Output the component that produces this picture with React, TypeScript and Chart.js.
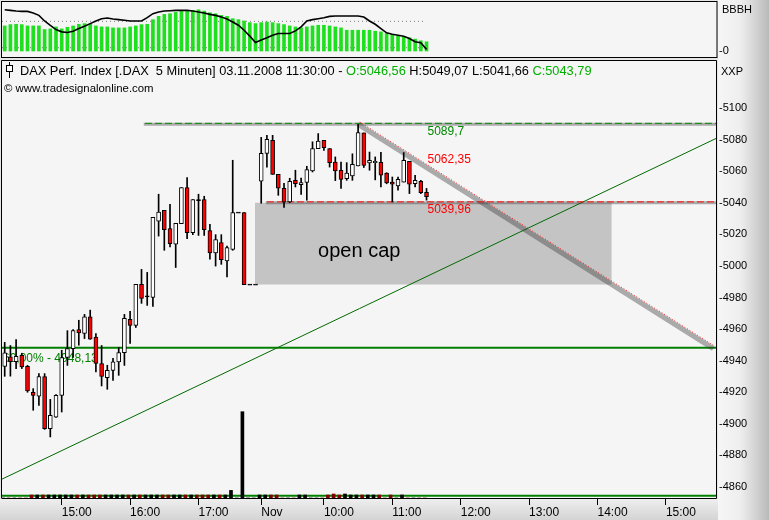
import React, { useEffect, useRef } from 'react';
import { Chart, registerables } from 'chart.js';

Chart.register(...registerables);

const FONT = '"Liberation Sans", Arial, sans-serif';

// ---- candle data (5 minute bars, index 0..74) ----
const opens = [
  4936.4, 4942.5, 4939.4, 4943.4, 4936.4, 4920.0, 4917.6, 4930.0, 4897.0, 4904.3,
  4918.0, 4942.0, 4947.6, 4959.7, 4957.3, 4967.8, 4955.0, 4938.2, 4929.3, 4933.9,
  4939.2, 4945.1, 4966.2, 4962.4, 4988.3, 4980.6, 4980.0, 5028.4, 5035.2, 5023.6,
  5013.7, 5026.8, 5049.6, 5021.1, 5041.8, 5042.0, 5022.4, 5008.2, 5014.8, 5003.1,
  5010.5, 5033.8, 5033.8, 4988.2, 4988.2, 5053.6, 5071.3, 5079.5, 5058.0, 5049.2,
  5040.5, 5054.2, 5051.5, 5052.8, 5060.1, 5074.3, 5079.5, 5074.3, 5065.8, 5060.6,
  5055.3, 5057.0, 5063.3, 5084.2, 5065.2, 5065.4, 5065.6, 5058.8, 5053.1, 5050.6,
  5053.1, 5066.2, 5052.1, 5053.6, 5046.56,
];
const highs = [
  4951.6, 4949.6, 4953.3, 4944.7, 4937.0, 4922.3, 4931.8, 4931.8, 4915.5, 4918.5,
  4946.6, 4959.0, 4959.7, 4965.6, 4969.3, 4972.0, 4957.1, 4949.6, 4937.1, 4941.5,
  4948.3, 4969.3, 4971.2, 4988.3, 4997.8, 4995.9, 5030.7, 5045.4, 5035.2, 5039.0,
  5027.0, 5049.6, 5055.9, 5042.0, 5045.4, 5044.1, 5026.4, 5019.8, 5019.8, 5012.6,
  5066.9, 5033.8, 5033.8, 4988.2, 4988.2, 5081.4, 5082.7, 5082.7, 5058.0, 5052.3,
  5055.5, 5060.6, 5055.7, 5063.1, 5078.6, 5083.8, 5079.5, 5074.3, 5069.0, 5065.8,
  5065.4, 5071.0, 5089.7, 5084.2, 5072.1, 5069.0, 5072.0, 5059.0, 5056.3, 5056.3,
  5071.8, 5066.2, 5057.4, 5054.2, 5049.07,
];
const lows = [
  4930.1, 4930.2, 4935.0, 4935.0, 4920.0, 4908.6, 4911.7, 4896.5, 4891.7, 4904.0,
  4907.5, 4937.0, 4942.0, 4949.8, 4954.0, 4953.5, 4932.8, 4924.0, 4921.9, 4927.5,
  4930.7, 4937.0, 4951.0, 4961.0, 4976.3, 4975.0, 4974.4, 5018.9, 5009.9, 5012.0,
  4999.0, 5026.8, 5017.3, 5019.8, 5019.3, 5019.3, 5004.2, 4999.9, 5001.0, 4993.0,
  5009.9, 5033.8, 4988.2, 4988.2, 4988.2, 5039.7, 5062.5, 5058.0, 5044.7, 5037.1,
  5040.0, 5050.0, 5045.2, 5041.6, 5059.5, 5074.3, 5073.2, 5062.6, 5054.0, 5049.0,
  5054.2, 5054.2, 5063.3, 5062.3, 5060.6, 5054.5, 5050.0, 5052.0, 5040.5, 5047.9,
  5053.1, 5045.8, 5050.0, 5045.8, 5041.66,
];
const closes = [
  4945.0, 4939.3, 4942.8, 4936.0, 4920.8, 4918.0, 4930.0, 4897.0, 4905.4, 4918.0,
  4942.0, 4947.6, 4959.0, 4957.5, 4967.8, 4953.6, 4938.2, 4930.0, 4933.9, 4939.2,
  4945.1, 4966.8, 4962.4, 4988.3, 4979.4, 4980.9, 5030.7, 5034.1, 5023.0, 5014.1,
  5027.0, 5049.6, 5021.1, 5042.0, 5041.6, 5023.0, 5008.2, 5016.7, 5004.0, 5011.6,
  5033.8, 5033.8, 4988.2, 4988.2, 4988.2, 5071.3, 5080.2, 5058.0, 5049.2, 5040.3,
  5053.6, 5052.1, 5052.8, 5061.0, 5074.3, 5079.1, 5074.9, 5065.4, 5060.1, 5054.8,
  5058.8, 5064.3, 5084.4, 5063.6, 5066.9, 5066.2, 5057.4, 5052.5, 5051.7, 5054.9,
  5066.9, 5051.7, 5054.2, 5046.4, 5043.79,
];
const volumes = [
  0, 0, 0, 0, 0, 30, 30, 30, 30, 30,
  30, 30, 30, 30, 30, 30, 30, 30, 30, 30,
  30, 30, 30, 30, 30, 30, 30, 30, 30, 30,
  30, 30, 30, 30, 30, 30, 30, 30, 30, 30,
  76, 0, 863, 0, 0, 30, 30, 30, 30, 0,
  0, 0, 30, 30, 0, 0, 0, 30, 40, 30,
  40, 30, 30, 30, 30, 30, 30, 0, 30, 0,
  30, 0, 0, 0, 0,
];
const auctionIndex = 42;

// ---- oscillator panel ----
const oscBars = [
  76, 80, 81, 80, 76, 76, 76, 65, 67, 73,
  67, 72, 76, 81, 83, 81, 76, 73, 73, 70,
  70, 70, 73, 76, 80, 81, 95, 105, 111, 113,
  117, 120, 123, 123, 125, 121, 116, 113, 108, 105,
  98, 95, 91, 86, 83, 86, 88, 86, 83, 80,
  76, 73, 70, 73, 76, 78, 78, 76, 73, 70,
  63, 63, 63, 63, 63, 60, 58, 53, 50, 46,
  43, 40, 36, 31, 28,
];
const oscLine = [
  125, 123, 121, 120, 120, 115, 108, 91, 78, 65,
  58, 56, 60, 68, 75, 83, 91, 98, 100, 97,
  95, 93, 91, 91, 91, 101, 113, 118, 121, 122,
  123, 123, 123, 121, 118, 115, 111, 108, 103, 97,
  88, 78, 63, 45, 26, 33, 40, 48, 53, 53,
  53, 61, 73, 91, 95, 98, 101, 105, 106, 106,
  106, 106, 106, 103, 91, 81, 68, 55, 51, 48,
  45, 38, 28, 25, 5,
];
const oscLevels = [10, 90];
const oscLevelEnd = 73.4;

// ---- axes ----
const xTickIndex = [10, 22, 34, 45, 56, 68, 80, 92, 104, 116];
const xTickLabels = ['15:00', '16:00', '17:00', 'Nov', '10:00', '11:00', '12:00', '13:00', '14:00', '15:00'];
const priceTicks = [4860, 4880, 4900, 4920, 4940, 4960, 4980, 5000, 5020, 5040, 5060, 5080, 5100];
const X_MIN = -0.474;
const X_MAX = 124.96;
const Y_MIN = 4853.04;
const Y_MAX = 5167.12;
const IND_MIN = -1354.5;
const IND_MAX = 148.5;
const VOL_MAX = 4960;

// ---- drawings ----
const resistanceLevel = 5089.7;
const resistanceFrom = 24.4;
const supportLevel = 5039.96;
const supportFrom = 45.8;
const fibLevel = 4948.13;
const fibPercent = '60,00%';
const fibBaseLevel = 4854.5;
const trendDown = [{ x: 62, y: 5089.7 }, { x: 124.3, y: 4947.7 }];
const trendDownValue = 5062.35;
const trendUp = [{ x: -0.47, y: 4865 }, { x: 124.96, y: 5081 }];
const gapFrom = 43.9;
const gapTo = 106.5;
const gapTop = 5039.96;
const gapBottom = 4988.2;
const gapText = 'open cap';
const gapTextAt = { x: 62.2, y: 5009 };

const de = (v: number, d?: number) => (d === undefined ? String(v) : v.toFixed(d)).replace('.', ',');

const noPad = (s: any) => {
  s.paddingTop = 0;
  s.paddingBottom = 0;
  s.paddingLeft = 0;
  s.paddingRight = 0;
};

export default function App() {
  const ref = useRef<HTMLCanvasElement | null>(null);

  useEffect(() => {
    const canvas = ref.current;
    if (!canvas) return;
    const n = opens.length;
    const last = n - 1;
    const idx = opens.map((_, i) => i);
    const MIN_BODY = 0.7;
    const bodies = idx.map((i) => {
      let lo = Math.min(opens[i], closes[i]);
      let hi = Math.max(opens[i], closes[i]);
      if (hi - lo < MIN_BODY) {
        const m = (lo + hi) / 2;
        lo = m - MIN_BODY / 2;
        hi = m + MIN_BODY / 2;
      }
      return { x: i, y: [lo, hi] };
    });
    const bodyColors = idx.map((i) => {
      if (Math.abs(closes[i] - opens[i]) < MIN_BODY) return '#000000';
      return closes[i] >= opens[i] ? '#ffffff' : '#ff0000';
    });
    const wicks = idx.map((i) => (highs[i] - lows[i] > 0.01 ? { x: i, y: [lows[i], highs[i]] } : null)).filter(Boolean);
    const volColors = idx.map((i) => (i === auctionIndex || closes[i] >= opens[i] ? '#000000' : '#800000'));
    const shade = 'rgba(52,52,52,0.39)';

    const line = (label: string, data: any[], color: string, width: number, order: number, extra: any = {}) => ({
      type: 'line',
      label,
      data,
      borderColor: color,
      borderWidth: width,
      pointRadius: 0,
      fill: false,
      tension: 0,
      yAxisID: 'y',
      order,
      ...extra,
    });

    const datasets: any[] = [
      line('gap', [{ x: gapFrom, y: gapTop }, { x: gapTo, y: gapTop }], 'rgba(0,0,0,0)', 0, 30, {
        fill: { value: gapBottom },
        backgroundColor: '#c4c4c4',
      }),
      ...oscLevels.map((lv, k) =>
        line('osc' + k, [{ x: X_MIN, y: lv }, { x: oscLevelEnd, y: lv }], '#7a7a7a', 1, 29, {
          yAxisID: 'yInd',
          borderDash: [1, 3],
        })
      ),
      {
        type: 'bar',
        label: 'oscBars',
        data: idx.map((i) => ({ x: i, y: oscBars[i] })),
        backgroundColor: '#1fe01f',
        barThickness: 3,
        grouped: false,
        yAxisID: 'yInd',
        order: 28,
      },
      line('oscLine', idx.map((i) => ({ x: i, y: oscLine[i] })), '#000000', 1.6, 27, { yAxisID: 'yInd' }),
      line('fib100', [{ x: X_MIN, y: fibBaseLevel }, { x: X_MAX, y: fibBaseLevel }], '#008000', 2, 26),
      {
        type: 'bar',
        label: 'volume',
        data: idx.map((i) => ({ x: i - 0.3, y: volumes[i] })),
        backgroundColor: volColors,
        barThickness: 3,
        grouped: false,
        yAxisID: 'yVol',
        order: 25,
      },
      line('fib60', [{ x: X_MIN, y: fibLevel }, { x: X_MAX, y: fibLevel }], '#007f00', 2, 24),
      line('trendUp', trendUp, '#006a00', 1, 23),
      line('resShade', [{ x: resistanceFrom, y: resistanceLevel }, { x: X_MAX, y: resistanceLevel }], shade, 3, 22),
      line('supShade', [{ x: supportFrom, y: supportLevel }, { x: X_MAX, y: supportLevel }], shade, 3, 22),
      line('downShade', trendDown, shade, 5, 21),
      line('res', [{ x: resistanceFrom + 0.2, y: resistanceLevel + 0.6 }, { x: X_MAX, y: resistanceLevel + 0.6 }], '#008800', 1, 20, {
        borderDash: [7, 3],
      }),
      line('sup', [{ x: supportFrom + 0.2, y: supportLevel + 0.6 }, { x: X_MAX, y: supportLevel + 0.6 }], '#ff0000', 1, 20, {
        borderDash: [7, 3],
      }),
      line('down', trendDown.map((p) => ({ x: p.x + 0.3, y: p.y + 1.4 })), '#ff2020', 1, 19, {
        borderDash: [1, 2],
      }),
      {
        type: 'bar',
        label: 'wicks',
        data: wicks,
        backgroundColor: '#000000',
        barThickness: 1,
        grouped: false,
        yAxisID: 'y',
        order: 1,
      },
      {
        type: 'bar',
        label: 'bodies',
        data: bodies,
        backgroundColor: bodyColors,
        borderColor: '#000000',
        borderWidth: 1,
        borderSkipped: false,
        barThickness: 4,
        grouped: false,
        yAxisID: 'y',
        order: 0,
      },
    ];

    const panels = {
      id: 'panels',
      beforeDraw(chart: any) {
        const { ctx, width, height, chartArea } = chart;
        const L = chartArea.left, R = chartArea.right, B = chartArea.bottom;
        ctx.save();
        ctx.fillStyle = '#e6e6e6';
        ctx.fillRect(0, 0, width, height);
        ctx.fillStyle = '#f5f5f5';
        ctx.fillRect(L, 2, R - L, 56);
        ctx.fillRect(L, 61, R - L, B - 61);
        const g = ctx.createLinearGradient(R, 0, width, 0);
        g.addColorStop(0, '#f6f6f6');
        g.addColorStop(0.45, '#eeeeee');
        g.addColorStop(1, '#bababa');
        ctx.fillStyle = g;
        ctx.fillRect(R + 1, 0, width - R - 1, height);
        const g2 = ctx.createLinearGradient(0, B + 1, 0, height);
        g2.addColorStop(0, '#eeeeee');
        g2.addColorStop(1, '#d4d4d4');
        ctx.fillStyle = g2;
        ctx.fillRect(0, B + 1, R + 1, height - B - 1);
        ctx.restore();
      },
      afterDatasetDraw(chart: any, args: any) {
        const ds = chart.data.datasets[args.index];
        if (ds.label !== 'fib60') return;
        const { ctx, scales } = chart;
        ctx.save();
        ctx.font = `12px ${FONT}`;
        ctx.fillStyle = '#008000';
        ctx.textBaseline = 'middle';
        ctx.fillText(`${fibPercent} - ${de(fibLevel)}`, chart.chartArea.left + 1, scales.y.getPixelForValue(fibLevel) + 11);
        ctx.restore();
      },
      afterDraw(chart: any) {
        const { ctx, scales, chartArea } = chart;
        const L = chartArea.left, R = chartArea.right, B = chartArea.bottom;
        const x = scales.x, y = scales.y;
        ctx.save();
        ctx.strokeStyle = '#000';
        ctx.lineWidth = 1;
        ctx.strokeRect(L - 0.5, 1.5, R - L + 0.5, 56);
        ctx.beginPath();
        ctx.moveTo(L - 0.5, 60.5);
        ctx.lineTo(R - 0.5, 60.5);
        ctx.moveTo(L - 0.5, 60.5);
        ctx.lineTo(L - 0.5, B);
        ctx.moveTo(R - 0.5, 60.5);
        ctx.lineTo(R - 0.5, B + 0.5);
        ctx.moveTo(L - 0.5, B + 0.5);
        ctx.lineTo(R - 0.5, B + 0.5);
        ctx.stroke();

        ctx.textBaseline = 'middle';
        ctx.font = `12px ${FONT}`;
        const lx = x.getPixelForValue(last) + 1;
        ctx.fillStyle = '#008800';
        ctx.fillText(de(resistanceLevel), lx, y.getPixelForValue(resistanceLevel) + 7);
        ctx.fillStyle = '#ff0000';
        ctx.fillText(de(trendDownValue), lx, y.getPixelForValue(trendDownValue) - 8);
        ctx.fillText(de(supportLevel), lx, y.getPixelForValue(supportLevel) + 7);

        ctx.font = `20px ${FONT}`;
        ctx.fillStyle = '#000';
        ctx.textAlign = 'center';
        ctx.fillText(gapText, x.getPixelForValue(gapTextAt.x), y.getPixelForValue(gapTextAt.y));
        ctx.textAlign = 'left';

        ctx.font = `12.8px ${FONT}`;
        const segs: [string, string][] = [
          ['DAX Perf. Index [.DAX  5 Minuten] 03.11.2008 11:30:00 - ', '#000000'],
          ['O:' + de(opens[last], 2), '#00b000'],
          [' H:' + de(highs[last], 2) + ' L:' + de(lows[last], 2) + ' ', '#000000'],
          ['C:' + de(closes[last], 2), '#00b000'],
        ];
        let tx = 20;
        for (const [t, c] of segs) {
          ctx.fillStyle = c;
          ctx.fillText(t, tx, 71);
          tx += ctx.measureText(t).width;
        }
        ctx.strokeStyle = '#000';
        ctx.beginPath();
        ctx.moveTo(9.5, 62);
        ctx.lineTo(9.5, 78);
        ctx.stroke();
        ctx.fillStyle = '#fff';
        ctx.fillRect(6.5, 65.5, 6, 6);
        ctx.strokeRect(6.5, 65.5, 6, 6);

        ctx.font = `11.4px ${FONT}`;
        ctx.fillStyle = '#000';
        ctx.fillText('\u00a9 www.tradesignalonline.com', 4, 89);

        ctx.font = `11px ${FONT}`;
        ctx.fillText('XXP', R + 4, 72);
        ctx.fillText('BBBH', R + 5, 10);
        ctx.fillText('-0', R + 2, scales.yInd.getPixelForValue(0));
        ctx.restore();
      },
    };

    const chart = new Chart(canvas, {
      type: 'bar',
      data: { datasets },
      options: {
        animation: false,
        responsive: false,
        devicePixelRatio: 1,
        events: [],
        layout: { padding: { left: 2, top: 2, right: 0, bottom: 0 } },
        plugins: { legend: { display: false }, tooltip: { enabled: false } },
        scales: {
          x: {
            type: 'linear',
            min: X_MIN,
            max: X_MAX,
            offset: false,
            afterBuildTicks: (s: any) => {
              s.ticks = xTickIndex.map((v) => ({ value: v }));
            },
            afterFit: (s: any) => {
              s.height = 22;
              noPad(s);
            },
            grid: { drawOnChartArea: false, drawTicks: true, tickLength: 7, color: '#000', offset: false },
            border: { display: false },
            ticks: {
              callback: (v: any) => {
                const k = xTickIndex.indexOf(Number(v));
                return k >= 0 ? xTickLabels[k] : '';
              },
              font: { family: FONT, size: 12 },
              color: '#000',
              padding: 0,
              align: 'start',
              maxRotation: 0,
              autoSkip: false,
            },
          },
          y: {
            type: 'linear',
            position: 'right',
            min: Y_MIN,
            max: Y_MAX,
            afterBuildTicks: (s: any) => {
              s.ticks = priceTicks.map((v) => ({ value: v }));
            },
            afterFit: (s: any) => {
              s.width = 52;
              noPad(s);
            },
            grid: { display: false, drawTicks: false },
            border: { display: false },
            ticks: {
              callback: (v: any) => '-' + v,
              font: { family: FONT, size: 11 },
              color: '#000',
              padding: 2,
              autoSkip: false,
            },
          },
          yInd: { type: 'linear', display: false, min: IND_MIN, max: IND_MAX },
          yVol: { type: 'linear', display: false, min: 0, max: VOL_MAX },
        },
      } as any,
      plugins: [panels as any],
    });
    return () => chart.destroy();
  }, []);

  return (
    <div style={{ position: 'absolute', left: 0, top: 0, width: 769, height: 520 }}>
      <canvas ref={ref} width={769} height={520} style={{ display: 'block' }} />
    </div>
  );
}
